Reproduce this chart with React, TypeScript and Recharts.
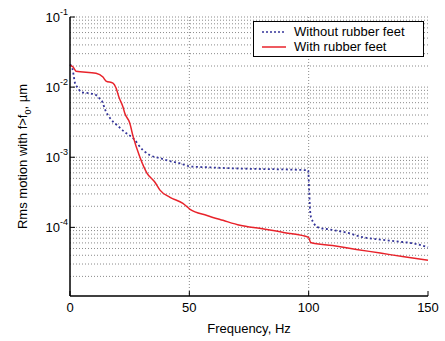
import {
  LineChart,
  Line,
  XAxis,
  YAxis,
  CartesianGrid,
  Legend
} from 'recharts';

// Without rubber feet (blue dotted)
const withoutFreq = [0, 1, 2.1, 3.4, 4.6, 8, 10.9, 12.2, 13.8, 14.5, 16.8, 19.7, 23, 26.4, 30.6, 33.5, 37.7, 41.9, 46, 50.3, 57.4, 71, 80, 90, 99.8, 100.2, 100.6, 101, 104, 109, 116, 123, 130, 137, 144, 150];
const withoutRms = [0.021, 0.0185, 0.0114, 0.0097, 0.0085, 0.0082, 0.0077, 0.007, 0.0059, 0.005, 0.0036, 0.00287, 0.00228, 0.00187, 0.00126, 0.00107, 0.00097, 0.00088, 0.00082, 0.00074, 0.00072, 0.00069, 0.00068, 0.00067, 0.00065, 0.00034, 0.000175, 0.000139, 0.0001, 0.000093, 0.000084, 0.000072, 0.000067, 0.000063, 0.000059, 0.000052];

// With rubber feet (red solid)
const withFreq = [0, 1.3, 2.5, 10.9, 13.8, 15.1, 18, 19.3, 20.5, 22.2, 23, 25, 26.4, 29.3, 32.3, 35.6, 37.7, 41.9, 47.3, 50.3, 57.4, 64.1, 71.2, 80, 90, 100, 100.8, 110, 120, 130, 140, 150];
const withRms = [0.0206, 0.0193, 0.0169, 0.0158, 0.0139, 0.0122, 0.0114, 0.0097, 0.0072, 0.0052, 0.0042, 0.0031, 0.002, 0.001, 0.00059, 0.00044, 0.00034, 0.000268, 0.00022, 0.000181, 0.000148, 0.000126, 0.000107, 0.000096, 0.000084, 0.000072, 0.000061, 0.000055, 0.0000485, 0.000043, 0.000038, 0.000034];

const xTicks = [0, 50, 100, 150];
const xGrid = [50, 100];
const yTicks = [1e-4, 1e-3, 1e-2, 1e-1];
const yGrid = [2, 3, 4, 5, 6, 7, 8, 9].flatMap((m) => [1e-5, 1e-4, 1e-3, 1e-2].map((d) => m * d)).concat(yTicks);
const X_DOMAIN = [0, 150];
const Y_DOMAIN = [1.05e-5, 0.1];

const withoutData = withoutFreq.map((f, i) => ({ f, v: withoutRms[i] }));
const withData = withFreq.map((f, i) => ({ f, v: withRms[i] }));

const FONT = 'Liberation Sans, Arial, Helvetica, sans-serif';
const BLUE = '#35359a';
const RED = '#e8232b';

const PowTick = ({ x, y, payload }: any) => {
  const exp = Math.round(Math.log10(payload.value));
  return (
    <g>
      <line x1={x + 2} x2={x + 7} y1={y} y2={y} stroke="#000" />
      <text x={x} y={y} textAnchor="end" fontSize={13} fontFamily={FONT} fill="#000">
        <tspan dy={5}>10</tspan>
        <tspan dy={-7} fontSize={9}>{exp}</tspan>
      </text>
    </g>
  );
};

const FreqTick = ({ x, y, payload }: any) => (
  <g>
    <line x1={x} x2={x} y1={y} y2={y - 5} stroke="#000" />
    <text x={x} y={y + 16} textAnchor="middle" fontSize={13} fontFamily={FONT} fill="#000">
      {payload.value}
    </text>
  </g>
);

const XLabel = ({ viewBox }: any) => (
  <text
    x={viewBox.x + viewBox.width / 2}
    y={viewBox.y + 37}
    textAnchor="middle"
    fontSize={13}
    fontFamily={FONT}
    fill="#000"
  >
    Frequency, Hz
  </text>
);

const YLabel = ({ viewBox }: any) => {
  const cx = viewBox.x + 27;
  const cy = viewBox.y + viewBox.height / 2;
  return (
    <text
      x={cx}
      y={cy}
      transform={`rotate(-90 ${cx} ${cy})`}
      textAnchor="middle"
      fontSize={13}
      fontFamily={FONT}
      fill="#000"
    >
      Rms motion with f&gt;f
      <tspan dy={4} fontSize={9}>0</tspan>
      <tspan dy={-4}>, µm</tspan>
    </text>
  );
};

const LegendBox = () => (
  <div
    style={{
      border: '1px solid #000',
      background: '#fff',
      width: 169,
      padding: '2px 0',
      fontFamily: FONT,
      fontSize: 13,
      lineHeight: '15px',
      color: '#000'
    }}
  >
    {[
      { name: 'Without rubber feet', color: BLUE, dash: '2 2' },
      { name: 'With rubber feet', color: RED, dash: undefined }
    ].map((item) => (
      <div key={item.name} style={{ display: 'flex', alignItems: 'center', height: 15 }}>
        <svg width={40} height={15} style={{ flex: 'none' }}>
          <line x1={8} x2={32} y1={8} y2={8} stroke={item.color} strokeWidth={1.5} strokeDasharray={item.dash} />
        </svg>
        <span>{item.name}</span>
      </div>
    ))}
  </div>
);

// grid positions follow the same log / linear mapping the axes use
const hLines = ({ offset }: any) => {
  const lo = Math.log10(Y_DOMAIN[0]);
  const hi = Math.log10(Y_DOMAIN[1]);
  return yGrid.map((v) => offset.top + (offset.height * (hi - Math.log10(v))) / (hi - lo));
};
const vLines = ({ offset }: any) =>
  xGrid.map((v) => offset.left + (offset.width * (v - X_DOMAIN[0])) / (X_DOMAIN[1] - X_DOMAIN[0]));

export default function App() {
  return (
    <div style={{ position: 'absolute', left: 0, top: 0, background: '#fff' }}>
      <LineChart width={445} height={341} margin={{ top: 17, right: 17, left: 0, bottom: 0 }}>
        <CartesianGrid
          horizontalCoordinatesGenerator={hLines}
          verticalCoordinatesGenerator={vLines}
          stroke="#8a8a8a"
          strokeDasharray="1 2"
        />
        <XAxis
          dataKey="f"
          type="number"
          domain={X_DOMAIN}
          ticks={xTicks}
          allowDuplicatedCategory={false}
          height={45}
          tickSize={0}
          tickMargin={0}
          tick={<FreqTick />}
          axisLine={{ stroke: '#000', strokeWidth: 1.5 }}
          label={<XLabel />}
        />
        <XAxis
          xAxisId="top"
          orientation="top"
          type="number"
          domain={X_DOMAIN}
          height={0}
          tick={false}
          tickLine={false}
          axisLine={{ stroke: '#000', strokeWidth: 1.5 }}
        />
        <YAxis
          type="number"
          scale="log"
          domain={Y_DOMAIN}
          allowDataOverflow
          ticks={yTicks}
          width={70}
          tickSize={0}
          tickMargin={2}
          tick={<PowTick />}
          axisLine={{ stroke: '#000', strokeWidth: 1.5 }}
          label={<YLabel />}
        />
        <YAxis
          yAxisId="right"
          orientation="right"
          type="number"
          scale="log"
          domain={Y_DOMAIN}
          width={0}
          tick={false}
          tickLine={false}
          axisLine={{ stroke: '#000', strokeWidth: 1.5 }}
        />
        <Legend
          layout="vertical"
          verticalAlign="middle"
          align="center"
          content={<LegendBox />}
          wrapperStyle={{ top: 21, left: 253, width: 171 }}
        />
        <Line
          data={withoutData}
          dataKey="v"
          name="Without rubber feet"
          type="monotone"
          stroke={BLUE}
          strokeWidth={1.8}
          strokeDasharray="2 2.5"
          dot={false}
          isAnimationActive={false}
        />
        <Line
          data={withData}
          dataKey="v"
          name="With rubber feet"
          type="monotone"
          stroke={RED}
          strokeWidth={1.5}
          dot={false}
          isAnimationActive={false}
        />
      </LineChart>
    </div>
  );
}
